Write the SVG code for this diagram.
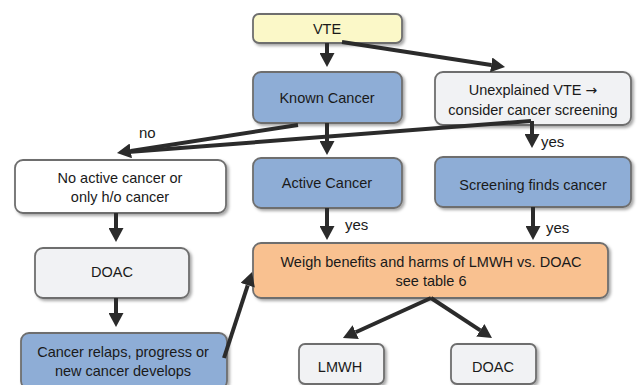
<svg xmlns="http://www.w3.org/2000/svg" width="637" height="385" viewBox="0 0 637 385">
<defs>
<filter id="sh" x="-10%" y="-10%" width="130%" height="140%">
<feDropShadow dx="2" dy="2" stdDeviation="1.6" flood-color="#000" flood-opacity="0.35"/>
</filter>
<marker id="ah" viewBox="0 0 14 15" refX="0" refY="7.5" markerWidth="14" markerHeight="15" markerUnits="userSpaceOnUse" orient="auto">
<path d="M0,0 L14,7.5 L0,15 z" fill="#2b2b2b"/>
</marker>
</defs>
<style>
.box{stroke:#6e6e6e;stroke-width:1.8;filter:url(#sh)}
.yel{fill:#fbf8c8}
.blu{fill:#8eadd6}
.gry{fill:#f1f2f4}
.wht{fill:#ffffff}
.org{fill:#f9c190}
text{font-family:"Liberation Sans",Arial,sans-serif;font-size:14.5px;fill:#1a1a1a;text-anchor:middle}
.lbl{text-anchor:start;font-size:15px}
.c{stroke:#2b2b2b;stroke-width:4;fill:none}
.a{marker-end:url(#ah)}
</style>
<rect width="637" height="385" fill="#ffffff"/>
<g id="n-vte"><rect class="box yel" x="253" y="14" width="149" height="29" rx="6"/><text x="327" y="34">VTE</text></g>
<g id="n-known"><rect class="box blu" x="253" y="72" width="149" height="51" rx="8"/><text x="327" y="103">Known Cancer</text></g>
<g id="n-unexpl"><rect class="box gry" x="435" y="72" width="196" height="53" rx="8"/><text x="533" y="95">Unexplained VTE <tspan font-family="DejaVu Sans, sans-serif" font-size="14">→</tspan></text><text x="533" y="115">consider cancer screening</text></g>
<g id="n-noactive"><rect class="box wht" x="15" y="160" width="211" height="53" rx="8"/><text x="120" y="183">No active cancer or</text><text x="120" y="202">only h/o cancer</text></g>
<g id="n-active"><rect class="box blu" x="253" y="158" width="149" height="50" rx="8"/><text x="327" y="188">Active Cancer</text></g>
<g id="n-screen"><rect class="box blu" x="435" y="157" width="196" height="50" rx="8"/><text x="533" y="190">Screening finds cancer</text></g>
<g id="n-doac1"><rect class="box gry" x="35" y="248" width="154" height="50" rx="8"/><text x="112" y="277">DOAC</text></g>
<g id="n-weigh"><rect class="box org" x="253" y="243" width="355" height="55" rx="8"/><text x="431" y="267">Weigh benefits and harms of LMWH vs. DOAC</text><text x="431" y="286">see table 6</text></g>
<g id="n-relaps"><rect class="box blu" x="21" y="333" width="206" height="56" rx="8"/><text x="123" y="357">Cancer relaps, progress or</text><text x="123" y="376">new cancer develops</text></g>
<g id="n-lmwh"><rect class="box gry" x="299" y="344" width="85" height="40" rx="6"/><text x="340" y="372">LMWH</text></g>
<g id="n-doac2"><rect class="box gry" x="451" y="344" width="85" height="40" rx="6"/><text x="493" y="372">DOAC</text></g>
<g id="connectors">
<line class="c a" x1="327" y1="43" x2="327" y2="53"/>
<line class="c a" x1="342" y1="42" x2="491.2" y2="64.9"/>
<line class="c a" x1="298" y1="125" x2="130.8" y2="150.9"/>
<line class="c" x1="531" y1="121" x2="128" y2="152"/>
<line class="c a" x1="532" y1="121" x2="532" y2="134"/>
<line class="c a" x1="327" y1="123" x2="327" y2="141"/>
<line class="c a" x1="116" y1="213" x2="116" y2="228"/>
<line class="c a" x1="116" y1="298" x2="116" y2="313"/>
<line class="c a" x1="327" y1="208" x2="327" y2="226"/>
<line class="c a" x1="533" y1="207" x2="533" y2="226"/>
<line class="c a" x1="224" y1="358" x2="247.7" y2="285.3"/>
<line class="c a" x1="431" y1="298" x2="355.7" y2="332.2"/>
<line class="c a" x1="431" y1="298" x2="480.3" y2="330.3"/>
<text class="lbl" x="139" y="138">no</text>
<text class="lbl" x="541" y="147">yes</text>
<text class="lbl" x="345" y="230">yes</text>
<text class="lbl" x="546" y="233">yes</text>
</g>
</svg>
